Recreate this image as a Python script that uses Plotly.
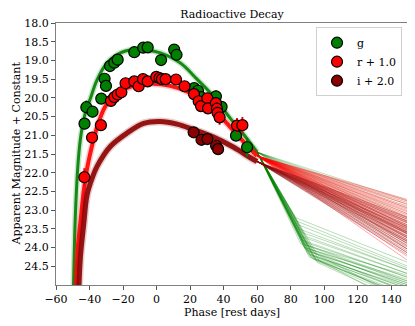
import plotly.graph_objects as go

# observed photometry (phase in rest days, magnitude + offset)
g_phase = [-43.0, -41.9, -38.2, -33.0, -31.0, -30.2, -27.8, -25.2, -23.2, -13.3, -8.0, -5.3,
           2.7, 10.5, 11.9, 22.4, 24.7, 26.5, 35.4, 38.8, 47.4, 54.0]
g_mag = [20.69, 20.25, 20.37, 20.02, 19.49, 19.68, 19.15, 19.06, 18.98, 18.78, 18.66, 18.65,
         18.99, 18.71, 18.85, 19.74, 19.81, 19.98, 19.96, 20.24, 21.01, 21.32]
g_err = [0.15, 0.18, 0.15, 0.08, 0.1, 0.12, 0.08, 0.06, 0.06, 0.05, 0.05, 0.05,
         0.06, 0.05, 0.05, 0.08, 0.08, 0.08, 0.16, 0.1, 0.12, 0.25]

r_phase = [-43.1, -38.5, -33.2, -27.2, -25.2, -23.2, -21.0, -18.5, -13.3, -10.7, -8.1, -5.3,
           -0.2, 1.8, 3.2, 5.4, 11.6, 16.7, 22.3, 25.1, 26.5, 30.3, 30.7, 35.4, 36.0, 36.4,
           37.6, 48.0, 51.2]
r_mag = [22.12, 21.06, 20.73, 20.08, 19.98, 19.91, 19.85, 19.61, 19.56, 19.69, 19.50, 19.56,
         19.44, 19.47, 19.50, 19.50, 19.51, 19.69, 19.90, 20.09, 20.22, 20.01, 20.28, 20.14,
         20.29, 20.40, 20.52, 20.74, 20.73]
r_err = [0.24, 0.1, 0.08, 0.06, 0.05, 0.05, 0.05, 0.05, 0.05, 0.05, 0.05, 0.05,
         0.05, 0.05, 0.05, 0.05, 0.05, 0.05, 0.06, 0.08, 0.08, 0.08, 0.1, 0.1,
         0.1, 0.12, 0.2, 0.2, 0.22]

i_phase = [22.1, 26.8, 30.3, 35.5, 36.7]
i_mag = [20.92, 21.12, 21.10, 21.28, 21.37]
i_err = [0.05, 0.05, 0.05, 0.06, 0.06]

# model curves (core of the posterior band)
g_model_x = [-50.0, -48.5, -47.0, -45.5, -44.0, -42.5, -39.5, -35.5, -29.6, -21.6, -13.7, -6.0,
             2.2, 14.2, 24.1, 34.0, 44.0, 52.0, 60.0]
g_model_y = [26.0, 23.2, 21.85, 21.12, 20.7, 20.4, 20.02, 19.52, 19.07, 18.8, 18.71, 18.72,
             18.8, 19.07, 19.5, 19.96, 20.55, 20.98, 21.45]

r_model_x = [-48.5, -47.0, -45.5, -43.5, -41.5, -39.5, -35.5, -30.6, -23.6, -13.7, -1.8, 8.2,
             18.2, 28.0, 36.0, 44.0, 52.0, 60.0]
r_model_y = [26.0, 24.0, 23.35, 22.5, 21.9, 21.47, 20.78, 20.23, 19.87, 19.68, 19.62, 19.68,
             19.83, 20.1, 20.4, 20.78, 21.18, 21.55]

i_model_x = [-47.0, -45.5, -43.5, -41.5, -38.5, -35.5, -27.6, -17.6, -7.7, 2.2, 12.2, 22.1,
             34.0, 46.0, 56.0, 60.0]
i_model_y = [26.0, 24.3, 23.4, 22.6, 22.15, 21.83, 21.3, 20.94, 20.68, 20.63, 20.7, 20.85,
             21.05, 21.32, 21.6, 21.7]

# late-time sample tails (value at 150 days, plus knee for steep g samples)
g_knee_x = [84, 85, 86, 87, 88, 88, 89, 90, 90, 91, 92, 92, 93, 94, 95, 96, 86, 89, 91, 93, 87, 90,
            94, 97, 85, 88, 92, 95, 83, 89, 91, 96]
g_knee_y = [23.3, 23.5, 23.7, 23.8, 23.9, 24.0, 24.05, 24.1, 24.15, 24.2, 24.2, 24.25, 24.3, 24.3,
            24.35, 24.4, 23.9, 24.0, 24.1, 24.2, 23.6, 23.95, 24.15, 24.35, 23.4, 23.85, 24.05, 24.3,
            23.2, 23.7, 24.25, 24.2]
g_knee_end = [24.5, 24.6, 24.7, 24.8, 24.9, 24.85, 25.0, 24.95, 25.1, 25.05, 25.2, 25.15, 25.3, 25.25,
              25.4, 25.5, 24.75, 24.9, 25.0, 25.1, 24.6, 24.95, 25.2, 25.6, 24.55, 24.8, 25.05, 25.35,
              24.4, 24.7, 25.3, 25.45]
g_flat_end = [22.75, 22.85, 22.95, 23.1, 23.2, 23.3, 23.45, 23.6, 23.75, 23.9, 24.05]
r_tail_end = [22.72, 22.76, 22.8, 22.85, 22.9, 22.94, 22.98, 23.02, 23.05, 23.1, 23.14, 23.18, 23.22,
              23.25, 23.3, 23.33, 23.35, 23.4, 23.43, 23.45, 23.5, 23.53, 23.55, 23.6, 23.63, 23.65,
              23.7, 23.75, 23.8, 23.85, 23.9, 23.97, 24.05, 24.15, 24.25, 24.35]
i_tail_end = [23.2, 23.25, 23.3, 23.35, 23.4, 23.45, 23.48, 23.5, 23.55, 23.58, 23.6, 23.63, 23.65,
              23.7, 23.72, 23.75, 23.8, 23.83, 23.85, 23.9, 23.95, 24.0, 24.05, 24.1, 24.15, 24.2]

x_end = 150.0

fig = go.Figure()


def add_core(xs, ys, rgb, w):
    fig.add_trace(go.Scatter(x=xs, y=ys, mode='lines', line=dict(color='rgba(%s,0.2)' % rgb, width=w + 3, shape='spline'),
                             hoverinfo='skip', showlegend=False))
    fig.add_trace(go.Scatter(x=xs, y=ys, mode='lines', line=dict(color='rgba(%s,0.9)' % rgb, width=w, shape='spline'),
                             hoverinfo='skip', showlegend=False))


def add_tail(x0, y0, ends, rgb, alpha, knees=None):
    tx, ty = [], []
    for k in range(len(ends)):
        if knees is None:
            tx += [x0, x_end, None]
            ty += [y0, ends[k], None]
        else:
            tx += [x0, knees[0][k], x_end, None]
            ty += [y0, knees[1][k], ends[k], None]
    fig.add_trace(go.Scatter(x=tx, y=ty, mode='lines', line=dict(color='rgba(%s,%s)' % (rgb, alpha), width=1),
                             hoverinfo='skip', showlegend=False))


green = '0,128,0'
red = '255,0,0'
dred = '139,0,0'

add_core(g_model_x, g_model_y, green, 3)
add_tail(g_model_x[-1], g_model_y[-1], g_knee_end, green, 0.28, knees=(g_knee_x, g_knee_y))
add_tail(g_model_x[-1], g_model_y[-1], g_flat_end, green, 0.25)
add_core(r_model_x, r_model_y, red, 4)
add_tail(r_model_x[-1], r_model_y[-1], r_tail_end, red, 0.35)
add_core(i_model_x, i_model_y, dred, 5)
add_tail(i_model_x[-1], i_model_y[-1], i_tail_end, dred, 0.35)

for name, xs, ys, es, col in [('g', g_phase, g_mag, g_err, 'green'),
                              ('r + 1.0', r_phase, r_mag, r_err, 'red'),
                              ('i + 2.0', i_phase, i_mag, i_err, 'darkred')]:
    fig.add_trace(go.Scatter(
        x=xs, y=ys, mode='markers', name=name,
        marker=dict(color=col, size=11, line=dict(color='black', width=1.2)),
        error_y=dict(type='data', array=es, color=col, thickness=2, width=0),
    ))

axis_style = dict(showgrid=False, zeroline=False, showline=True, linecolor='#808080', linewidth=1.2,
                  mirror=True, ticks='outside', ticklen=4, tickcolor='#555555', automargin=False,
                  tickfont=dict(size=11, color='black'))

# the page body has an 8px margin, so the figure is sized/offset to land on the target pixels
W, H, OFF = 407, 318, 8

fig.update_layout(
    width=W, height=H,
    margin=dict(l=56 - OFF, r=7, t=23 - OFF, b=41),
    paper_bgcolor='white', plot_bgcolor='white',
    font=dict(family='DejaVu Serif', color='black'),
    title=dict(text='Radioactive Decay', x=(232 - OFF) / W, xanchor='center', y=1 - 6.5 / H,
               yanchor='middle', yref='container', pad=dict(t=0, b=0), font=dict(size=11)),
    xaxis=dict(range=[-60, 150], tickvals=list(range(-60, 150, 20)), **axis_style),
    yaxis=dict(range=[25.0, 18.0], tickvals=[18.0 + 0.5 * k for k in range(14)], tickformat='.1f',
               **axis_style),
    legend=dict(x=0.983, y=0.984, xanchor='right', yanchor='top', bgcolor='rgba(255,255,255,0.8)',
                bordercolor='#d0d0d0', borderwidth=1, font=dict(size=11)),
    showlegend=True,
    annotations=[
        dict(text='Phase [rest days]', xref='paper', yref='paper', x=0.5, y=-(312 - 285) / 262,
             xanchor='center', yanchor='middle', showarrow=False, font=dict(size=11)),
        dict(text='Apparent Magnitude + Constant', xref='paper', yref='paper', x=(7.5 - 48) / 352, y=0.5,
             xanchor='center', yanchor='middle', textangle=-90, showarrow=False, font=dict(size=11)),
    ],
)

fig.write_html("out.html")
